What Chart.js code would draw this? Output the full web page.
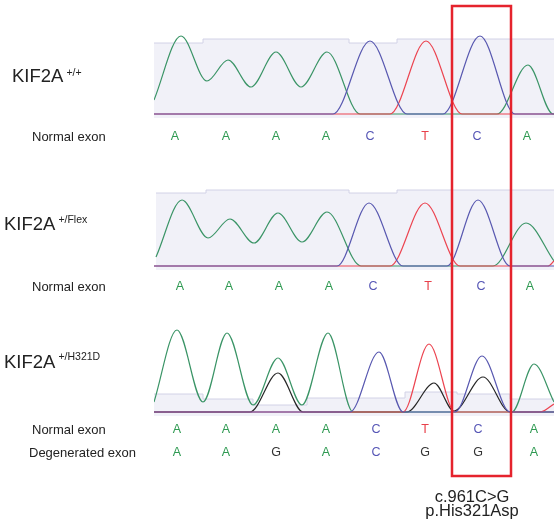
<!DOCTYPE html>
<html>
<head>
<meta charset="utf-8">
<script src="https://cdn.jsdelivr.net/npm/chart.js@4.4.0/dist/chart.umd.min.js"></script>
<style>
  html, body { margin: 0; padding: 0; background: #fff; }
  #wrap { width: 554px; height: 526px; }
</style>
</head>
<body>
<div id="wrap"><canvas id="trace" width="554" height="526"></canvas></div>
<script>
// x = scan position along the read, y = signal height above the baseline
// --- KIF2A +/+ ---
const wtGreen = [[0,14],[27,78],[53,33],[74,54],[97,27],[122,62],[147,27],[173,62],[206,0],[343,0],[374,49],[399,0],[400,0]];
const wtBlue  = [[0,0],[179,0],[216,73],[253,0],[289,0],[326,78],[361,0],[400,0]];
const wtRed   = [[0,0],[236,0],[272,73],[308,0],[400,0]];
const wtShade = [[0,71],[49,75],[195,71],[243,75],[400,75]];

// --- KIF2A +/Flex ---
const flexGreen = [[2,9],[28,66],[54,28],[76,47],[100,23],[124,53],[148,24],[173,54],[207,0],[339,0],[372,43],[400,5]];
const flexBlue  = [[0,0],[183,0],[215,63],[249,0],[293,0],[324,66],[356,0],[400,0]];
const flexRed   = [[0,0],[236,0],[271,63],[306,0],[394,0],[400,5]];
const flexShade = [[2,73],[52,76],[195,73],[243,76],[400,76]];

// --- KIF2A +/H321D ---
const mutGreen = [[0,10],[23,82],[49,10],[73,79],[99,7],[124,54],[148,7],[174,79],[199,0],[358,0],[380,48],[400,10]];
const mutBlack = [[0,0],[96,0],[124,39],[149,0],[253,0],[280,29],[300,1],[329,35],[356,0],[400,0]];
const mutBlue  = [[0,0],[196,0],[225,60],[249,0],[301,0],[328,56],[356,0],[400,0]];
const mutRed   = [[0,0],[249,0],[275,68],[301,0],[386,0],[400,8]];
const mutShade = [[0,18],[49,13],[99,7],[153,14],[251,20],[303,18],[356,13],[400,13]];

// base calls under each trace
const wtCalls = ['A','A','A','A','C','T','C','A'];
const wtCallPos = [21,72,122,172,216,271,323,373];
const flexCalls = ['A','A','A','A','C','T','C','A'];
const flexCallPos = [26,75,125,175,219,274,327,376];
const mutNormalCalls = ['A','A','A','A','C','T','C','A'];
const mutDegenCalls  = ['A','A','G','A','C','G','G','A'];
const mutCallPos = [23,72,122,172,222,271,324,380];

const sampleNames = ['KIF2A','KIF2A','KIF2A'];
const genotypes = ['+/+','+/Flex','+/H321D'];
const rowNormal = 'Normal exon';
const rowDegen = 'Degenerated exon';
const variantLines = ['c.961C>G','p.His321Asp'];
const boxRange = [298, 357];
const variantAt = 318;

const COLORS = { A: '#2f9a52', C: '#5656b6', T: '#e8404a', G: '#333333' };
const TRACE = { green: '#3a9466', blue: '#5858b0', red: '#ec4450', black: '#262626' };
const FONT = '"Liberation Sans", Arial, Helvetica, sans-serif';

function toXY(points) {
    return points.map(([x, y]) => ({ x, y }));
}

function traceSet(points, color, yAxisID, order) {
    return {
        data: toXY(points),
        borderColor: color,
        borderWidth: 1.2,
        pointRadius: 0,
        cubicInterpolationMode: 'monotone',
        fill: false,
        xAxisID: 'x',
        yAxisID,
        order
    };
}

function shadeSet(points, yAxisID) {
    return {
        data: toXY(points),
        stepped: true,
        borderColor: '#d2d2e6',
        backgroundColor: '#f1f1f8',
        borderWidth: 1,
        pointRadius: 0,
        fill: { value: -4 },
        xAxisID: 'x',
        yAxisID,
        order: 10
    };
}

const datasets = [
    shadeSet(wtShade, 'y1'),
    traceSet(wtGreen, TRACE.green, 'y1', 3),
    traceSet(wtRed, TRACE.red, 'y1', 2),
    traceSet(wtBlue, TRACE.blue, 'y1', 1),
    shadeSet(flexShade, 'y2'),
    traceSet(flexGreen, TRACE.green, 'y2', 3),
    traceSet(flexRed, TRACE.red, 'y2', 2),
    traceSet(flexBlue, TRACE.blue, 'y2', 1),
    shadeSet(mutShade, 'y3'),
    traceSet(mutBlack, TRACE.black, 'y3', 4),
    traceSet(mutGreen, TRACE.green, 'y3', 3),
    traceSet(mutRed, TRACE.red, 'y3', 2),
    traceSet(mutBlue, TRACE.blue, 'y3', 1)
];

// letters, sample labels and the highlight box
const annotations = {
    id: 'annotations',
    afterDraw(chart) {
        const ctx = chart.ctx;
        const x = chart.scales.x;
        const { y1, y2, y3 } = chart.scales;
        ctx.save();

        const drawCalls = (calls, pos, yPix) => {
            ctx.font = '12.5px ' + FONT;
            ctx.textAlign = 'center';
            ctx.textBaseline = 'middle';
            calls.forEach((b, i) => {
                ctx.fillStyle = COLORS[b];
                ctx.fillText(b, x.getPixelForValue(pos[i]), yPix);
            });
        };
        drawCalls(wtCalls, wtCallPos, y1.getPixelForValue(-23));
        drawCalls(flexCalls, flexCallPos, y2.getPixelForValue(-21));
        drawCalls(mutNormalCalls, mutCallPos, y3.getPixelForValue(-18));
        drawCalls(mutDegenCalls, mutCallPos, y3.getPixelForValue(-41));

        // row labels
        ctx.fillStyle = '#222';
        ctx.textAlign = 'left';
        ctx.textBaseline = 'middle';
        ctx.font = '13px ' + FONT;
        ctx.fillText(rowNormal, 32, y1.getPixelForValue(-23));
        ctx.fillText(rowNormal, 32, y2.getPixelForValue(-21));
        ctx.fillText(rowNormal, 32, y3.getPixelForValue(-18));
        ctx.fillText(rowDegen, 29, y3.getPixelForValue(-41));

        // sample names with genotype superscript
        const nameSpots = [[12, 82, 76], [4, 230, 223], [4, 368, 360]];
        ctx.textBaseline = 'alphabetic';
        sampleNames.forEach((name, i) => {
            const [nx, ny, sy] = nameSpots[i];
            ctx.font = '18.5px ' + FONT;
            ctx.fillText(name, nx, ny);
            const w = ctx.measureText(name).width;
            ctx.font = '10.5px ' + FONT;
            ctx.fillText(genotypes[i], nx + w + 3, sy);
        });

        // highlighted codon
        const bx0 = x.getPixelForValue(boxRange[0]);
        const bx1 = x.getPixelForValue(boxRange[1]);
        const by0 = y1.getPixelForValue(108);
        const by1 = y3.getPixelForValue(-64);
        ctx.strokeStyle = '#e5232d';
        ctx.lineWidth = 2.5;
        ctx.strokeRect(bx0, by0, bx1 - bx0, by1 - by0);

        ctx.fillStyle = '#222';
        ctx.textAlign = 'center';
        ctx.textBaseline = 'middle';
        ctx.font = '16.5px ' + FONT;
        const cx = x.getPixelForValue(variantAt);
        ctx.fillText(variantLines[0], cx, y3.getPixelForValue(-85));
        ctx.fillText(variantLines[1], cx, y3.getPixelForValue(-99));
        ctx.restore();
    }
};

const hidden = { display: false, grid: { display: false } };

new Chart(document.getElementById('trace').getContext('2d'), {
    type: 'line',
    data: { datasets },
    options: {
        responsive: false,
        animation: false,
        events: [],
        layout: { padding: { left: 154, right: 0, top: 0, bottom: 0 } },
        scales: {
            x: { ...hidden, type: 'linear', min: 0, max: 400 },
            y1: { ...hidden, type: 'linear', position: 'right', stack: 'panels', stackWeight: 160, min: -46, max: 114 },
            y2: { ...hidden, type: 'linear', position: 'right', stack: 'panels', stackWeight: 150, min: -44, max: 106 },
            y3: { ...hidden, type: 'linear', position: 'right', stack: 'panels', stackWeight: 216, min: -114, max: 102 }
        },
        plugins: { legend: { display: false }, tooltip: { enabled: false } }
    },
    plugins: [annotations]
});
</script>
</body>
</html>
